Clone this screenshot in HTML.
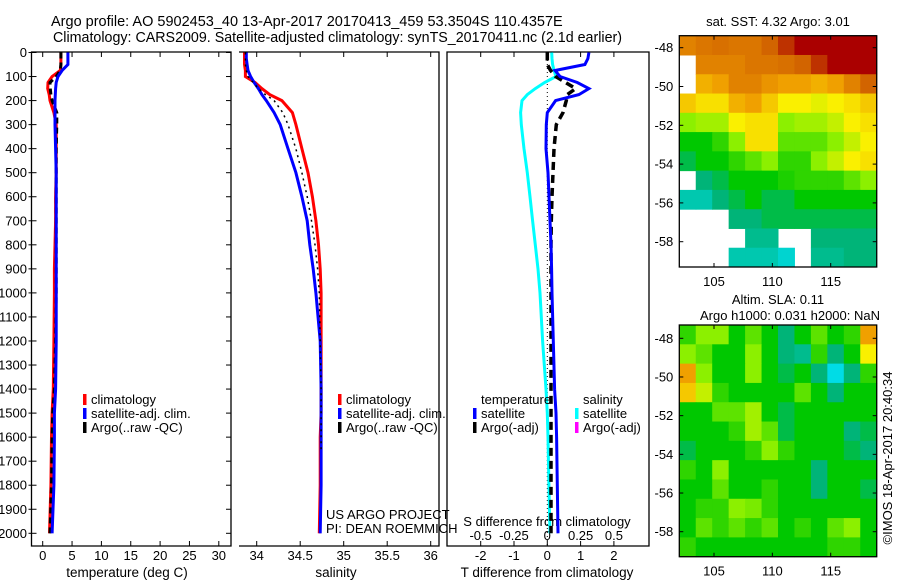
<!DOCTYPE html>
<html><head><meta charset="utf-8">
<style>
html,body{margin:0;padding:0;background:#fff;}
svg{display:block;font-family:"Liberation Sans",Arial,sans-serif;}
text{fill:#000;}
</style></head>
<body>
<svg id="c" width="900" height="580" viewBox="0 0 900 580" xmlns="http://www.w3.org/2000/svg">
<text x="51" y="26" font-size="14.5">Argo profile: AO 5902453_40 13-Apr-2017 20170413_459 53.3504S 110.4357E</text>
<text x="53" y="42" font-size="14.5" textLength="569" lengthAdjust="spacingAndGlyphs">Climatology: CARS2009. Satellite-adjusted climatology: synTS_20170411.nc (2.1d earlier)</text>
</svg>
<script>
// ---------- data ----------
const depths      = [0,25,50,75,100,125,150,175,200,250,300,400,500,600,700,800,900,1000,1200,1400,1500,1600,1800,2000];
const tempClim    = [3.1,3.1,3.1,3.0,1.6,0.9,0.85,1.1,1.25,1.9,2.3,2.3,2.3,2.2,2.2,2.1,2.0,2.0,1.9,1.8,1.6,1.5,1.4,1.15];
const tempSat     = [4.3,4.3,4.3,3.3,2.6,2.3,2.2,2.15,2.1,2.1,2.1,2.2,2.3,2.3,2.3,2.3,2.3,2.3,2.3,2.2,2.0,2.0,1.9,1.6];
const tempArgo    = [3.1,3.1,3.1,3.0,2.3,1.25,1.3,1.4,1.6,2.4,2.4,2.3,2.3,2.3,2.3,2.3,2.3,2.3,2.2,2.0,1.7,1.6,1.5,1.25];
const salClim     = [33.86,33.86,33.86,33.87,33.87,33.98,34.06,34.15,34.29,34.41,34.45,34.52,34.59,34.64,34.68,34.71,34.73,34.74,34.74,34.74,34.74,34.73,34.73,34.72];
const salSat      = [33.88,33.88,33.89,33.90,33.93,33.97,34.02,34.06,34.11,34.20,34.27,34.36,34.45,34.52,34.58,34.61,34.65,34.68,34.73,34.74,34.74,34.74,34.74,34.73];
const salArgoDepths = [0,25,50,75,100,125,150,175,200,250,300,400,500,600,700,800,900,1000,1200,1400,1500,1650];
const salArgo     = [33.87,33.87,33.87,33.88,33.90,33.96,34.02,34.1,34.2,34.3,34.36,34.45,34.52,34.58,34.63,34.67,34.70,34.72,34.73,34.74,34.74,34.74];
const dTempSat    = [1.25,1.22,1.13,0.23,0.38,0.9,1.25,0.95,0.25,0.0,-0.03,-0.04,0.02,0.05,0.08,0.11,0.13,0.14,0.18,0.22,0.26,0.28,0.3,0.32];
const dTempArgo   = [0.0,0.0,0.0,0.1,0.25,0.55,0.85,0.6,0.57,0.47,0.27,0.2,0.17,0.14,0.12,0.11,0.11,0.11,0.11,0.11,0.11,0.11,0.11,0.11];
const dSalSat     = [0.033,0.035,0.04,0.05,0.065,-0.02,-0.09,-0.15,-0.19,-0.2,-0.195,-0.175,-0.15,-0.13,-0.11,-0.09,-0.07,-0.055,-0.035,-0.01,0.0,0.005,0.012,0.02];
const depthTicks  = [0,100,200,300,400,500,600,700,800,900,1000,1100,1200,1300,1400,1500,1600,1700,1800,1900,2000];
const tempTicks   = [0,5,10,15,20,25,30];
const salTicks    = [34,34.5,35,35.5,36];
const salTickLabels = ["34","34.5","35","35.5","36"];
const dTTicks     = [-2,-1,0,1,2];
const dSTicks     = [-0.5,-0.25,0,0.25,0.5];
const dSTickLabels = ["-0.5","-0.25","0","0.25","0.5"];
const lonTicks    = [105,110,115];
const latTicks    = [-48,-50,-52,-54,-56,-58];
const sstGrid = [
[.85,.87,.88,.87,.87,.9,.95,1,1,1,1,1],
[-1,.85,.85,.85,.87,.87,.88,.9,.95,1,1,1],
[-1,.78,.8,.85,.85,.82,.8,.8,.78,.8,.85,.9],
[.75,.72,.72,.78,.8,.75,.7,.7,.68,.7,.72,.75],
[.6,.62,.62,.7,.72,.72,.6,.62,.62,.65,.7,.72],
[.45,.45,.5,.6,.72,.72,.55,.55,.55,.6,.65,.7],
[.42,.45,.45,.5,.55,.6,.5,.5,.6,.65,.7,.72],
[-1,.4,.42,.45,.45,.45,.48,.5,.5,.5,.55,.6],
[.35,.35,.4,.42,.45,.42,.42,.45,.45,.45,.45,.45],
[-1,-1,-1,.4,.4,.42,.42,.42,.42,.42,.42,.42],
[-1,-1,-1,-1,.38,.38,-1,-1,.4,.4,.4,.4],
[-1,-1,-1,.35,.35,.35,.32,-1,.38,.38,.4,.4]];
const slaGrid = [
[.5,.6,.6,.45,.55,.45,.4,.45,.55,.45,.5,.8],
[.6,.55,.45,.45,.6,.45,.4,.38,.5,.4,.45,.7],
[.8,.6,.45,.45,.6,.45,.42,.45,.4,.3,.4,.5],
[.75,.65,.5,.45,.45,.45,.45,.55,.45,.4,.45,.45],
[.45,.45,.55,.55,.62,.45,.42,.45,.45,.45,.45,.45],
[.45,.45,.45,.5,.62,.55,.42,.45,.45,.45,.4,.42],
[.42,.45,.45,.45,.5,.6,.5,.45,.45,.45,.42,.4],
[.5,.45,.6,.45,.45,.45,.45,.45,.4,.45,.45,.45],
[.45,.45,.55,.45,.45,.5,.45,.45,.4,.45,.45,.42],
[.45,.5,.5,.6,.58,.5,.45,.45,.45,.45,.45,.45],
[.45,.55,.5,.55,.5,.55,.45,.5,.45,.55,.6,.45],
[.5,.45,.45,.45,.45,.45,.45,.45,.45,.5,.5,.45]];

// ---------- helpers ----------
const svg = document.getElementById('c');
const NS = 'http://www.w3.org/2000/svg';
function mk(tag, attrs, parent){const e=document.createElementNS(NS,tag);for(const k in attrs)e.setAttribute(k,attrs[k]);(parent||svg).appendChild(e);return e;}
const yD = d => 52.5 + d*0.2404;
const xT = t => 42.7 + t*5.87;
const xS = s => 256.7 + (s-34)*87;
const xDT = d => 547.3 + d*33.3;
const xDS = s => 547.3 + s*133.3;
const xLon = l => 714 + (l-105)*11.67;
const yLat1 = l => 47.7 + (-48-l)*19.4;
const yLat2 = l => 338.3 + (-48-l)*19.34;

const defs = mk('defs',{});
[['cp1',31.5,52,199.5,494],['cp2',239,52,200,494],['cp3',447,52,202,494]].forEach(c=>{
  const cp=mk('clipPath',{id:c[0]},defs);mk('rect',{x:c[1],y:c[2],width:c[3],height:c[4]},cp);
});

function line(xs, ds, fx, color, w, dash, clip, name){
  let p='';
  for(let i=0;i<xs.length;i++){p+=(i?'L':'M')+fx(xs[i]).toFixed(1)+','+yD(ds[i]).toFixed(1);}
  const a={d:p,fill:'none',stroke:color,'stroke-width':w,'clip-path':'url(#'+clip+')'};
  if(dash)a['stroke-dasharray']=dash;
  const e=mk('path',a);
  
  
  return e;
}
function txt(x,y,s,str,anchor,name){
  const e=mk('text',{x:x,y:y,'font-size':s,'text-anchor':anchor||'start'});
  e.textContent=str;
  
  
  return e;
}

const L=31.5,R=231,T=52,B=546;
mk('path',{d:`M${L},${T}H${R}V${B}H${L}Z`,fill:'none',stroke:'#000','stroke-width':1.3});
depthTicks.forEach(d=>{
  const y=yD(d);
  mk('line',{x1:L,x2:L+5,y1:y,y2:y,stroke:'#000'});
  mk('line',{x1:R-5,x2:R,y1:y,y2:y,stroke:'#000'});
  mk('line',{x1:L-3,x2:L,y1:y,y2:y,stroke:'#000'});
  txt(27,y+4.5,13,String(d),'end','depth-tick-label');
});
tempTicks.forEach(t=>{
  const x=xT(t);
  mk('line',{x1:x,x2:x,y1:T,y2:T+5,stroke:'#000'});
  mk('line',{x1:x,x2:x,y1:B-5,y2:B,stroke:'#000'});
  txt(x,560,13,String(t),'middle','temperature-tick-label');
});
txt(127,577,13.5,'temperature (deg C)','middle','temperature-axis-title');

const L2=239,R2=439;
mk('path',{d:`M${L2},${T}H${R2}V${B}H${L2}`,fill:'none',stroke:'#000','stroke-width':1.3});
salTicks.forEach((s,i)=>{
  const x=xS(s);
  mk('line',{x1:x,x2:x,y1:T,y2:T+5,stroke:'#000'});
  mk('line',{x1:x,x2:x,y1:B-5,y2:B,stroke:'#000'});
  txt(x,560,13,salTickLabels[i],'middle','salinity-tick-label');
});
txt(336,577,13.5,'salinity','middle','salinity-axis-title');

const L3=447,R3=649;
mk('path',{d:`M${L3},${T}H${R3}V${B}H${L3}Z`,fill:'none',stroke:'#000','stroke-width':1.3});
dTTicks.forEach(t=>{
  const x=xDT(t);
  mk('line',{x1:x,x2:x,y1:T,y2:T+5,stroke:'#000'});
  mk('line',{x1:x,x2:x,y1:B-5,y2:B,stroke:'#000'});
  txt(x,560,13,String(t),'middle','t-diff-tick-label');
});
dSTicks.forEach((s,i)=>{
  txt(xDS(s),540,13,dSTickLabels[i],'middle','s-diff-tick-label');
});
txt(547,526,13,'S difference from climatology','middle','s-diff-axis-title');
txt(547,577,13.5,'T difference from climatology','middle','t-diff-axis-title');
mk('line',{x1:xDT(0),x2:xDT(0),y1:T,y2:B,stroke:'#000','stroke-width':1,'stroke-dasharray':'1,3'});

line(tempClim,depths,xT,'#f00',3,null,'cp1','temp-climatology-line');
line(tempArgo,depths,xT,'#000',3,'6,4','cp1','temp-argo-line');
line(tempSat,depths,xT,'#00f',3,null,'cp1','temp-satellite-line');

line(salClim,depths,xS,'#f00',3,null,'cp2','sal-climatology-line');
line(salSat,depths,xS,'#00f',3,null,'cp2','sal-satellite-line');
line(salArgo,salArgoDepths,xS,'#000',1.5,'2,4','cp2','sal-argo-line');

line(dSalSat,depths,xDS,'#0ff',3,null,'cp3','sal-diff-satellite-line');
line(dTempArgo,depths,xDT,'#000',3.5,'8,5','cp3','temp-diff-argo-line');
line(dTempSat,depths,xDT,'#00f',3,null,'cp3','temp-diff-satellite-line');

function leg(x,y,color,label,name){
  const r=mk('rect',{x:x,y:y-10,width:3.5,height:11,fill:color});
  
  
  txt(x+8,y,13,label,'start',name);
}
leg(83,404,'#f00','climatology','legend-climatology');
leg(83,418,'#00f','satellite-adj. clim.','legend-satellite');
leg(83,432,'#000','Argo(..raw -QC)','legend-argo');
leg(338,404,'#f00','climatology','legend-sal-climatology');
leg(338,418,'#00f','satellite-adj. clim.','legend-sal-satellite');
leg(338,432,'#000','Argo(..raw -QC)','legend-sal-argo');
txt(481,404,13,'temperature','start','legend-temperature-heading');
txt(583,404,13,'salinity','start','legend-salinity-heading');
leg(473,418,'#00f','satellite','legend-t-satellite');
leg(473,432,'#000','Argo(-adj)','legend-t-argo');
leg(575,418,'#0ff','satellite','legend-s-satellite');
leg(575,432,'#f0f','Argo(-adj)','legend-s-argo');
txt(326,519,13,'US ARGO PROJECT','start','project-label');
txt(326,533,13,'PI: DEAN ROEMMICH','start','pi-label');

function cmap(v){
  const stops=[[0,[0,0,140]],[0.2,[0,120,255]],[0.3,[0,220,230]],[0.4,[0,180,120]],[0.45,[0,200,0]],[0.6,[140,240,0]],[0.7,[250,240,0]],[0.8,[240,160,0]],[0.9,[210,100,0]],[1,[170,0,0]]];
  for(let i=1;i<stops.length;i++){
    if(v<=stops[i][0]){const a=stops[i-1],b=stops[i],f=(v-a[0])/(b[0]-a[0]);
      return 'rgb('+a[1].map((c,k)=>Math.round(c+(b[1][k]-c)*f)).join(',')+')';}
  }
  return 'rgb(170,0,0)';
}
function drawMap(grid,x0,y0,w,h,name){
  const g=mk('g',{});
  
  
  const rows=grid.length,cols=grid[0].length,cw=w/cols,ch=h/rows;
  grid.forEach((row,r)=>row.forEach((v,c)=>{
    if(v<0)return;
    const cell=mk('rect',{x:(x0+c*cw).toFixed(2),y:(y0+r*ch).toFixed(2),width:(cw+0.5).toFixed(2),height:(ch+0.5).toFixed(2),fill:cmap(v)},g);
    
    
  }));
  mk('rect',{x:x0,y:y0,width:w,height:h,fill:'none',stroke:'#000','stroke-width':1.3});
}
function mapAxes(x0,y0,w,h,fy){
  lonTicks.forEach(l=>{const x=xLon(l);
    mk('line',{x1:x,x2:x,y1:y0,y2:y0+4,stroke:'#000'});
    mk('line',{x1:x,x2:x,y1:y0+h-4,y2:y0+h,stroke:'#000'});
    txt(x,y0+h+19,13,String(l),'middle','map-lon-tick-label');});
  latTicks.forEach(l=>{const y=fy(l);
    mk('line',{x1:x0,x2:x0+4,y1:y,y2:y,stroke:'#000'});
    mk('line',{x1:x0+w-4,x2:x0+w,y1:y,y2:y,stroke:'#000'});
    txt(x0-6,y+4.5,13,String(l),'end','map-lat-tick-label');});
}
drawMap(sstGrid,679.3,35.7,197.4,231.3,'sst-map');
mapAxes(679.3,35.7,197.4,231.3,yLat1);
drawMap(slaGrid,679.3,325,197.4,231.7,'sla-map');
mapAxes(679.3,325,197.4,231.7,yLat2);
txt(778,26,13,'sat. SST: 4.32 Argo: 3.01','middle','sst-map-title');
txt(778,304,13,'Altim. SLA: 0.11','middle','sla-map-title');
txt(790,320,13,'Argo h1000: 0.031 h2000: NaN','middle','argo-height-label');
const v=txt(0,0,13,'©IMOS 18-Apr-2017 20:40:34','middle','imos-credit');
v.setAttribute('transform','translate(892,458) rotate(-90)');
</script>
</body></html>
